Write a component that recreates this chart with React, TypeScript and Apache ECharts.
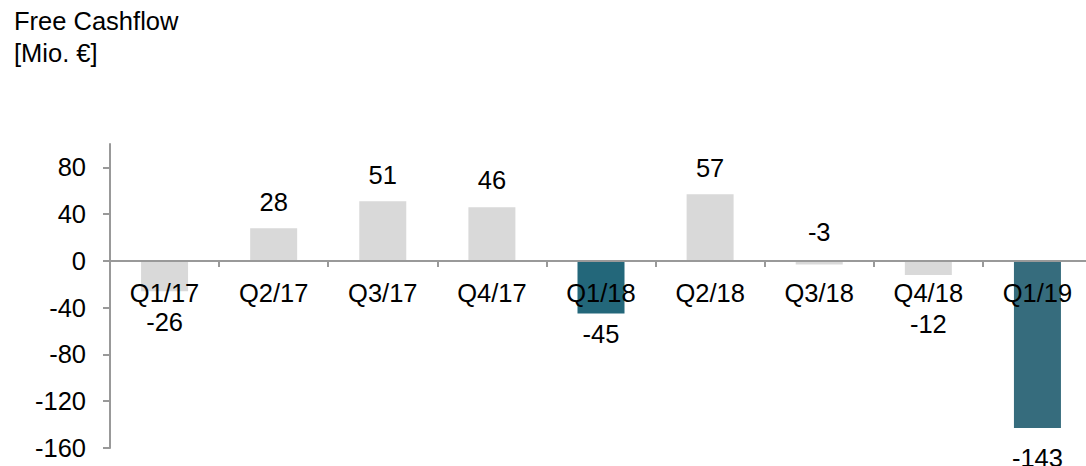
import React, { useEffect, useRef } from "react";
import * as echarts from "echarts";

const categories = ["Q1/17", "Q2/17", "Q3/17", "Q4/17", "Q1/18", "Q2/18", "Q3/18", "Q4/18", "Q1/19"];
const values = [-26, 28, 51, 46, -45, 57, -3, -12, -143];
const barColors = ["#D9D9D9", "#D9D9D9", "#D9D9D9", "#D9D9D9", "#23677A", "#D9D9D9", "#D9D9D9", "#D9D9D9", "#366C7D"];
const labelPositions = ["bottom", "top", "top", "top", "bottom", "top", "top", "bottom", "bottom"];
const labelDistances = [18, 13, 13, 14, 7, 13, 16, 36, 17];
const yTicks = [-160, -120, -80, -40, 0, 40, 80];
const titleLines = ["Free Cashflow", "[Mio. €]"];

const FONT = "'Liberation Sans', Arial, sans-serif";
const FS = 25.5;

export default function App() {
  const ref = useRef<HTMLDivElement>(null);
  useEffect(() => {
    if (!ref.current) return;
    const chart = echarts.init(ref.current, null, { renderer: "svg" });
    chart.setOption({
      animation: false,
      backgroundColor: "#ffffff",
      title: {
        text: titleLines.join("\n"),
        left: 9,
        top: 0,
        textStyle: {
          fontFamily: FONT,
          fontSize: FS,
          fontWeight: "normal",
          color: "#000000",
          lineHeight: 32,
        },
      },
      grid: {
        left: 110,
        right: -6,
        top: 144,
        bottom: 18,
        containLabel: false,
        outerBoundsMode: "none",
      },
      xAxis: {
        type: "category",
        data: categories,
        z: 10,
        offset: -187,
        axisLine: { onZero: false, lineStyle: { color: "#999999", width: 2 } },
        axisTick: { show: true, length: 6, lineStyle: { color: "#999999", width: 2 } },
        axisLabel: {
          fontFamily: FONT,
          fontSize: FS,
          color: "#000000",
          margin: 19,
          interval: 0,
        },
      },
      yAxis: {
        type: "value",
        min: -160,
        max: 100,
        interval: 40,
        splitLine: { show: false },
        axisLine: { show: true, lineStyle: { color: "#999999", width: 2 } },
        axisTick: { show: true, length: 7, customValues: yTicks, lineStyle: { color: "#999999", width: 2 } },
        axisLabel: {
          fontFamily: FONT,
          fontSize: FS,
          color: "#000000",
          margin: 24,
          customValues: yTicks,
        },
      },
      series: [
        {
          type: "bar",
          barWidth: 47,
          data: values.map((v, i) => ({
            value: v,
            itemStyle: { color: barColors[i] },
            label: {
              show: true,
              position: labelPositions[i],
              distance: labelDistances[i],
              fontFamily: FONT,
              fontSize: FS,
              color: "#000000",
            },
          })),
        },
      ],
    });
    return () => chart.dispose();
  }, []);
  return (
    <div
      ref={ref}
      style={{ position: "fixed", left: 0, top: 0, width: 1086, height: 466 }}
    />
  );
}
